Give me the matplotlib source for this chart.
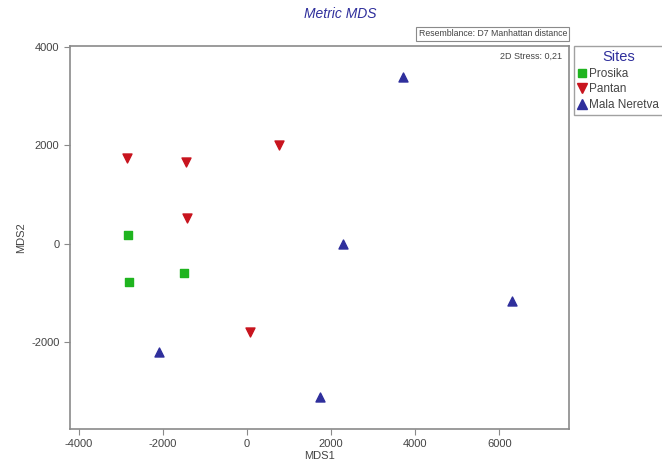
import matplotlib
matplotlib.use('Agg')
import matplotlib.pyplot as plt
from matplotlib.lines import Line2D

plt.rcParams['font.family'] = ['Liberation Sans', 'DejaVu Sans']
plt.rcParams['axes.unicode_minus'] = False

# Site ordination scores
prosika_x = [-2830, -2810, -1500]
prosika_y = [180, -780, -600]
pantan_x = [-2860, -1450, -1430, 760, 70]
pantan_y = [1740, 1660, 520, 2000, -1790]
neretva_x = [3710, 2290, 6310, -2100, 1740]
neretva_y = [3390, 0, -1160, -2200, -3110]

sites = ['Prosika', 'Pantan', 'Mala Neretva']
xticks = [-4000, -2000, 0, 2000, 4000, 6000]
yticks = [-2000, 0, 2000, 4000]

green = '#1fb41f'
red = '#c8141e'
blue = '#2f2f9c'
grey = '#8a8a8a'
txt = '#444444'

fig = plt.figure(figsize=(6.62, 4.71), dpi=100)
ax = fig.add_axes([0.1057, 0.0892, 0.7538, 0.8131])

ax.scatter(prosika_x, prosika_y, marker='s', s=32, color=green, zorder=3)
ax.scatter(pantan_x, pantan_y, marker='v', s=42, color=red, zorder=3)
ax.scatter(neretva_x, neretva_y, marker='^', s=42, color=blue, zorder=3)

ax.set_xlim(-4210, 7660)
ax.set_ylim(-3760, 4010)
ax.set_xticks(xticks)
ax.set_yticks(yticks)
ax.tick_params(colors=grey, labelcolor=txt, labelsize=8, length=4)
for s in ax.spines.values():
    s.set_color(grey)
    s.set_linewidth(1.2)

ax.set_xlabel('MDS1', fontsize=8, color=txt, labelpad=1)
ax.set_ylabel('MDS2', fontsize=8, color=txt, labelpad=4)

ax.text(0.985, 0.985, '2D Stress: 0,21', transform=ax.transAxes,
        ha='right', va='top', fontsize=6.5, color=txt)

fig.text(340 / 662, 1 - 14 / 471, 'Metric MDS', ha='center', va='center',
         fontsize=10, style='italic', color=blue)
fig.text(567 / 662, 1 - 34 / 471, 'Resemblance: D7 Manhattan distance',
         ha='right', va='center', fontsize=6.3, color=txt,
         bbox=dict(boxstyle='square,pad=0.25', fc='white', ec=grey, lw=0.8))

handles = [
    Line2D([], [], ls='', marker='s', ms=6, color=green),
    Line2D([], [], ls='', marker='v', ms=7, color=red),
    Line2D([], [], ls='', marker='^', ms=7, color=blue),
]
leg = fig.legend(handles, sites, title='Sites', loc='upper left',
                 bbox_to_anchor=(574 / 662, 1 - 46 / 471), fontsize=8.5,
                 title_fontsize=10.5, frameon=True, fancybox=False,
                 handlelength=0.6, handletextpad=0.3, borderpad=0.35,
                 labelspacing=0.3, borderaxespad=0)
leg.get_title().set_color(blue)
leg.get_frame().set_edgecolor(grey)
for t in leg.get_texts():
    t.set_color(txt)

fig.savefig('out.png', dpi=100)
